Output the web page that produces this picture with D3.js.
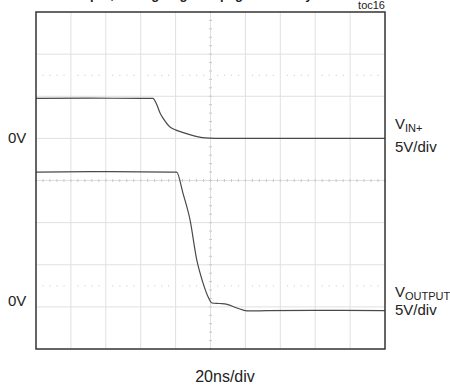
<!DOCTYPE html>
<html>
<head>
<meta charset="utf-8">
<script src="https://cdn.jsdelivr.net/npm/d3@7"></script>
<style>
  body { margin: 0; background: #fff; }
  svg text { font-family: "Liberation Sans", Arial, sans-serif; fill: #222; }
</style>
</head>
<body>
<div id="scope"></div>
<script>
// time axis: 10 div x 20ns, vertical: 8 div, both channels 5V/div
var timeDivs = 10, voltDivs = 8, nsPerDiv = 20, voltsPerDiv = 5;

// channel offsets in divisions (zero level position, + is up from center)
var vinOffset = 1, voutOffset = -3;

// V(IN+) trace, [time ns, volts]
var vinTrace = [
    [0, 4.75], [30, 4.78], [60, 4.75], [67, 4.75], [69.3, 3.95], [71.1, 3.0],
    [72.8, 2.4], [76.8, 1.35], [80.2, 0.98], [85.4, 0.62], [91.1, 0.27],
    [96.8, 0.05], [102.6, 0.0], [140, 0.0], [200, 0.0]
];

// V(OUTPUT) trace, [time ns, volts]
var voutTrace = [
    [0, 16.0], [40, 16.05], [80, 16.0], [80.6, 16.0], [84.2, 13.5], [88.3, 10.3],
    [92.1, 5.6], [95.7, 2.85], [98.6, 1.2], [100.9, 0.46], [105.4, 0.4],
    [109.5, 0.3], [115.2, -0.13], [120.9, -0.48], [132.4, -0.45], [160, -0.42], [200, -0.45]
];

var chLabels = [
    {name: 'V', sub: 'IN+', scale: '5V/div', zero: vinOffset},
    {name: 'V', sub: 'OUTPUT', scale: '5V/div', zero: voutOffset}
];

var W = 450, H = 385;
var plotLeft = 36, plotRight = 385, plotTop = 12, plotBottom = 349;

var svg = d3.select('#scope').append('svg').attr('width', W).attr('height', H);

var x = d3.scaleLinear().domain([0, timeDivs * nsPerDiv]).range([plotLeft, plotRight]);
var y = d3.scaleLinear().domain([voltDivs / 2, -voltDivs / 2]).range([plotTop, plotBottom]);

// grid
var grid = svg.append('g').attr('class', 'grid');
grid.selectAll('line.vx').data(d3.range(1, timeDivs)).enter().append('line')
    .attr('x1', function (d) { return x(d * nsPerDiv); })
    .attr('x2', function (d) { return x(d * nsPerDiv); })
    .attr('y1', plotTop).attr('y2', plotBottom)
    .attr('stroke', '#e0e0e0').attr('stroke-width', 1);
grid.selectAll('line.hy').data(d3.range(1, voltDivs)).enter().append('line')
    .attr('y1', function (d) { return y(voltDivs / 2 - d); })
    .attr('y2', function (d) { return y(voltDivs / 2 - d); })
    .attr('x1', plotLeft).attr('x2', plotRight)
    .attr('stroke', '#e0e0e0').attr('stroke-width', 1);

// minor ticks on the center axes
var minorX = d3.range(0, timeDivs * 5 + 1).map(function (i) { return i * nsPerDiv / 5; });
var minorY = d3.range(0, voltDivs * 5 + 1).map(function (i) { return voltDivs / 2 - i / 5; });
grid.selectAll('line.mx').data(minorX).enter().append('line')
    .attr('x1', function (d) { return x(d); }).attr('x2', function (d) { return x(d); })
    .attr('y1', y(0) - 1.5).attr('y2', y(0) + 1.5)
    .attr('stroke', '#c8c8c8');
grid.selectAll('line.my').data(minorY).enter().append('line')
    .attr('y1', function (d) { return y(d); }).attr('y2', function (d) { return y(d); })
    .attr('x1', x(100) - 1.5).attr('x2', x(100) + 1.5)
    .attr('stroke', '#c8c8c8');

// dotted rows at the half divisions
[2.5, -2.5].forEach(function (row) {
    grid.selectAll(null).data(minorX.filter(function (d, i) { return i % 5 != 0; })).enter().append('rect')
        .attr('x', function (d) { return x(d) - 0.5; }).attr('y', y(row) - 0.5)
        .attr('width', 1.2).attr('height', 1.2).attr('fill', '#d4d4d4');
});

// traces
function drawTrace(data, offset) {
    var line = d3.line()
        .x(function (d) { return x(d[0]); })
        .y(function (d) { return y(d[1] / voltsPerDiv + offset); })
        .curve(d3.curveMonotoneX);
    svg.append('path').datum(data)
        .attr('d', line)
        .attr('fill', 'none')
        .attr('stroke', '#4a4a4a')
        .attr('stroke-width', 1.2);
}
drawTrace(vinTrace, vinOffset);
drawTrace(voutTrace, voutOffset);

// frame
svg.append('rect').attr('x', plotLeft).attr('y', plotTop)
    .attr('width', plotRight - plotLeft).attr('height', plotBottom - plotTop)
    .attr('fill', 'none').attr('stroke', '#333').attr('stroke-width', 1.5);

// labels
svg.append('text').attr('x', 190).attr('y', -1).attr('text-anchor', 'middle')
    .style('font-weight', 'bold').style('font-size', '13px')
    .text('Output, Falling Edge Propagation Delay');
svg.append('text').attr('x', plotRight).attr('y', 9).attr('text-anchor', 'end')
    .style('font-size', '11px').text('toc16');

var zeroY = [y(vinOffset), y(voutOffset) - 6];
var nameDy = [-9, -4], scaleDy = [14, 14];
chLabels.forEach(function (c, i) {
    svg.append('text').attr('x', 8).attr('y', zeroY[i] + 5)
        .style('font-size', '15px').text('0V');
    var t = svg.append('text').attr('x', 395).attr('y', zeroY[i] + nameDy[i]).style('font-size', '15px');
    t.append('tspan').text(c.name);
    t.append('tspan').attr('dy', 3).style('font-size', '11px').text(c.sub);
    svg.append('text').attr('x', 395).attr('y', zeroY[i] + scaleDy[i])
        .style('font-size', '15px').text(c.scale);
});

svg.append('text').attr('x', 225).attr('y', 382).attr('text-anchor', 'middle')
    .style('font-size', '16px').text(nsPerDiv + 'ns/div');
</script>
</body>
</html>
